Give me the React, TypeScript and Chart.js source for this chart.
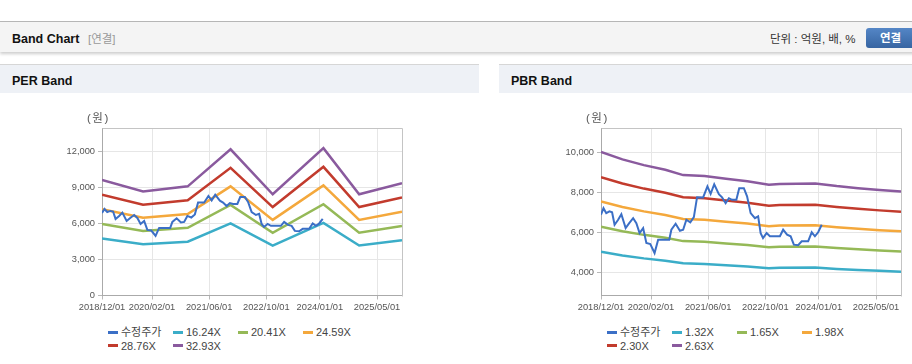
import React, { useEffect, useRef } from 'react';
import { Chart, registerables } from 'chart.js';

Chart.register(...registerables);

// ---------- data ----------
const xTickLabels = ['2018/12/01', '2020/02/01', '2021/06/01', '2022/10/01', '2024/01/01', '2025/05/01'];
const xRangeStart = '2018/12/01';
const xRangeEnd = '2025/12/01';

const priceDates = [
  '2018/12/01', '2018/12/22', '2019/01/15', '2019/02/12', '2019/03/04', '2019/03/25', '2019/04/25', '2019/05/22',
  '2019/06/28', '2019/07/28', '2019/09/01', '2019/09/28', '2019/10/25', '2019/11/25', '2019/12/22', '2020/01/25',
  '2020/03/01', '2020/04/01', '2020/05/12', '2020/07/04', '2020/07/22', '2020/08/28', '2020/10/04', '2020/11/01',
  '2020/11/28', '2021/01/01', '2021/02/01', '2021/02/28', '2021/04/19', '2021/05/25', '2021/06/22', '2021/07/22',
  '2021/09/01', '2021/09/28', '2021/10/28', '2021/11/25', '2021/12/22', '2022/01/28', '2022/02/22', '2022/04/01',
  '2022/04/28', '2022/05/28', '2022/07/04', '2022/08/01', '2022/08/22', '2022/09/12', '2022/10/12', '2022/11/10',
  '2023/02/04', '2023/03/01', '2023/04/04', '2023/05/04', '2023/06/01', '2023/07/07', '2023/08/07', '2023/10/01',
  '2023/11/01', '2023/11/28', '2023/12/25', '2024/01/25',
];
const priceValues = [
  6900, 7230, 6980, 7070, 7020, 6400, 6650, 6930,
  6230, 6480, 6730, 6480, 5980, 6230, 5480, 5430,
  4980, 5650, 5650, 5650, 6150, 6450, 6100, 6150,
  6650, 6520, 6780, 7780, 7770, 8320, 7950, 8430,
  7930, 7770, 7480, 7730, 7650, 7650, 8230, 8230,
  7820, 6980, 6730, 6820, 5980, 5730, 5980, 5820,
  5820, 6150, 5900, 5820, 5400, 5370, 5570, 5570,
  6020, 5820, 6020, 6400,
];

const perBandDates = ['2018/12/01', '2019/11/16', '2020/12/01', '2021/12/01', '2022/11/25', '2024/02/01', '2024/12/01', '2025/12/01'];
const perBand1624 = [4758, 4287, 4498, 6025, 4174, 6074, 4174, 4628];
const perBand2041 = [5980, 5388, 5654, 7572, 5245, 7633, 5245, 5817];
const perBand2459 = [7205, 6492, 6811, 9123, 6320, 9197, 6320, 7008];
const perBand2876 = [8427, 7593, 7967, 10670, 7391, 10756, 7391, 8197];
const perBand3293 = [9648, 8694, 9122, 12217, 8463, 12316, 8463, 9385];
const perLabels = ['수정주가', '16.24X', '20.41X', '24.59X', '28.76X', '32.93X'];
const perYTicks = [0, 3000, 6000, 9000, 12000];
const perYMin = 0;
const perYMax = 14000;

const pbrBandDates = [
  '2018/12/01', '2019/06/01', '2019/12/01', '2020/06/01', '2020/11/01', '2021/05/01', '2021/11/01', '2022/05/01',
  '2022/11/01', '2023/02/01', '2023/12/01', '2024/06/01', '2024/12/01', '2025/06/01', '2025/12/01',
];
const pbrBand132 = [5042, 4858, 4712, 4594, 4462, 4435, 4369, 4303, 4217, 4237, 4250, 4184, 4132, 4085, 4046];
const pbrBand165 = [6303, 6072, 5891, 5742, 5577, 5544, 5462, 5379, 5272, 5297, 5313, 5231, 5165, 5107, 5057];
const pbrBand198 = [7564, 7286, 7069, 6890, 6692, 6653, 6554, 6455, 6326, 6356, 6376, 6277, 6197, 6128, 6069];
const pbrBand230 = [8786, 8464, 8211, 8004, 7774, 7728, 7613, 7498, 7349, 7383, 7406, 7291, 7199, 7119, 7050];
const pbrBand263 = [10047, 9678, 9389, 9152, 8889, 8837, 8705, 8574, 8403, 8442, 8469, 8337, 8232, 8140, 8061];
const pbrLabels = ['수정주가', '1.32X', '1.65X', '1.98X', '2.30X', '2.63X'];
const pbrYTicks = [4000, 6000, 8000, 10000];
const pbrYMin = 2850;
const pbrYMax = 11250;

const seriesColors = ['#3b6fc6', '#3badc8', '#95b957', '#f4a83c', '#c23b2d', '#8a5a9e'];

// ---------- helpers ----------
const monthsFromStart = (d: string) => {
  const [y, m, dd] = d.split('/').map(Number);
  const [y0, m0] = xRangeStart.split('/').map(Number);
  return (y - y0) * 12 + (m - m0) + (dd - 1) / 30;
};

const xTickMonths = xTickLabels.map(monthsFromStart);
const FONT = "'Liberation Sans', Arial, 'Noto Sans CJK KR', sans-serif";

const boxPlugin = {
  id: 'plotBox',
  beforeDatasetsDraw(chart: any) {
    const { ctx, chartArea } = chart;
    ctx.save();
    ctx.strokeStyle = '#c4c4c4';
    ctx.lineWidth = 1;
    ctx.beginPath();
    ctx.moveTo(Math.round(chartArea.left) + 0.5, Math.round(chartArea.top) + 0.5);
    ctx.lineTo(Math.round(chartArea.right) + 0.5, Math.round(chartArea.top) + 0.5);
    ctx.lineTo(Math.round(chartArea.right) + 0.5, Math.round(chartArea.bottom) + 0.5);
    ctx.stroke();
    ctx.restore();
  },
};

type BandProps = {
  title: string;
  left: number;
  labels: string[];
  bandDates: string[];
  bands: number[][];
  yTicks: number[];
  yMin: number;
  yMax: number;
};

function BandPanel({ title, left, labels, bandDates, bands, yTicks, yMin, yMax }: BandProps) {
  const ref = useRef<HTMLCanvasElement | null>(null);

  useEffect(() => {
    if (!ref.current) return;
    const datasets: any[] = [
      {
        label: labels[0],
        data: priceDates.map((d, i) => ({ x: monthsFromStart(d), y: priceValues[i] })),
        borderColor: seriesColors[0],
        borderWidth: 2,
        pointRadius: 0,
        tension: 0,
      },
      ...bands.map((b, k) => ({
        label: labels[k + 1],
        data: bandDates.map((d, i) => ({ x: monthsFromStart(d), y: b[i] })),
        borderColor: seriesColors[k + 1],
        borderWidth: 2.5,
        pointRadius: 0,
        tension: 0,
      })),
    ];
    const chart = new Chart(ref.current, {
      type: 'line',
      data: { datasets },
      plugins: [boxPlugin],
      options: {
        animation: false,
        responsive: false,
        maintainAspectRatio: false,
        layout: { padding: { top: 35, left: 0, right: 77, bottom: 5.5 } },
        plugins: { legend: { display: false }, tooltip: { enabled: false } },
        scales: {
          x: {
            type: 'linear',
            min: monthsFromStart(xRangeStart),
            max: monthsFromStart(xRangeEnd),
            afterBuildTicks: (s: any) => {
              s.ticks = xTickMonths.map((v) => ({ value: v }));
            },
            afterFit: (s: any) => {
              s.height = 22;
            },
            ticks: {
              autoSkip: false,
              maxRotation: 0,
              padding: 2,
              color: '#555',
              font: { family: FONT, size: 9.3 },
              callback: (v: any) => {
                const i = xTickMonths.findIndex((m) => Math.abs(m - Number(v)) < 0.01);
                return i >= 0 ? xTickLabels[i] : '';
              },
            },
            grid: { color: '#e6e6e6', tickColor: '#b8b8b8', tickLength: 4 },
            border: { color: '#aaaaaa' },
          },
          y: {
            type: 'linear',
            min: yMin,
            max: yMax,
            afterBuildTicks: (s: any) => {
              s.ticks = yTicks.map((v) => ({ value: v }));
            },
            afterFit: (s: any) => {
              s.width = 102;
            },
            ticks: {
              padding: 3,
              color: '#555',
              font: { family: FONT, size: 9.3 },
              callback: (v: any) => Number(v).toLocaleString('en-US'),
            },
            grid: { color: '#e6e6e6', tickColor: '#b8b8b8', tickLength: 4 },
            border: { color: '#aaaaaa' },
          },
        },
      },
    });
    return () => chart.destroy();
  }, []);

  return (
    <div style={{ position: 'absolute', left, top: 64, width: 479, height: 300, background: '#fff' }}>
      <div
        style={{
          position: 'absolute', left: 0, top: 0, width: 479, height: 28,
          borderTop: '1px solid #d6d6d6', background: '#eef1f6',
        }}
      >
        <span
          style={{
            position: 'absolute', left: 12, top: 8.5, fontFamily: FONT, fontWeight: 'bold',
            fontSize: 12.5, color: '#111', lineHeight: '15px',
          }}
        >
          {title}
        </span>
      </div>
      <canvas
        ref={ref}
        width={479}
        height={230}
        style={{ position: 'absolute', left: 0, top: 29, width: 479, height: 230 }}
      />
      <span
        style={{
          position: 'absolute', left: 87, top: 47, fontFamily: FONT, fontSize: 11.5,
          color: '#555', lineHeight: '14px', letterSpacing: 1.5,
        }}
      >
        (원)
      </span>
      <div style={{ position: 'absolute', left: 108, top: 261, width: 300 }}>
        {labels.map((lab, i) => (
          <div
            key={lab}
            style={{
              position: 'absolute',
              left: (i % 4) * 65,
              top: Math.floor(i / 4) * 13.5,
              height: 14,
              display: 'flex',
              alignItems: 'center',
              whiteSpace: 'nowrap',
            }}
          >
            <span style={{ display: 'inline-block', width: 10, height: 3, background: seriesColors[i], marginRight: 3 }} />
            <span style={{ fontFamily: FONT, fontSize: 11, color: '#444', lineHeight: '14px' }}>{lab}</span>
          </div>
        ))}
      </div>
    </div>
  );
}

export default function App() {
  return (
    <div
      style={{
        position: 'fixed', left: 0, top: 0, width: 912, height: 364, overflow: 'hidden',
        background: '#fff', fontFamily: FONT,
      }}
    >
      <div style={{ position: 'absolute', left: 0, top: 21, width: 1000, height: 1, background: '#b8b8b8' }} />
      <div
        style={{
          position: 'absolute', left: 0, top: 22, width: 1000, height: 30, background: '#f4f4f4',
          boxShadow: '0 2px 3px rgba(0,0,0,0.2)',
        }}
      >
        <span
          style={{
            position: 'absolute', left: 12, top: 10, fontWeight: 'bold', fontSize: 12.5,
            color: '#111', lineHeight: '15px',
          }}
        >
          Band Chart
        </span>
        <span style={{ position: 'absolute', left: 88, top: 10, fontSize: 11.5, color: '#999', lineHeight: '15px' }}>
          [연결]
        </span>
        <span style={{ position: 'absolute', left: 770, top: 10, fontSize: 11.5, color: '#333', lineHeight: '15px' }}>
          단위 : 억원, 배, %
        </span>
        <div
          style={{
            position: 'absolute', left: 866, top: 6, width: 60, height: 20, borderRadius: 3,
            background: 'linear-gradient(#5486c6, #3765a2)',
          }}
        >
          <span
            style={{
              position: 'absolute', left: 14, top: 3, fontSize: 11.5, fontWeight: 'bold',
              color: '#fff', lineHeight: '14px',
            }}
          >
            연결
          </span>
        </div>
      </div>
      <BandPanel
        title="PER Band"
        left={0}
        labels={perLabels}
        bandDates={perBandDates}
        bands={[perBand1624, perBand2041, perBand2459, perBand2876, perBand3293]}
        yTicks={perYTicks}
        yMin={perYMin}
        yMax={perYMax}
      />
      <BandPanel
        title="PBR Band"
        left={499}
        labels={pbrLabels}
        bandDates={pbrBandDates}
        bands={[pbrBand132, pbrBand165, pbrBand198, pbrBand230, pbrBand263]}
        yTicks={pbrYTicks}
        yMin={pbrYMin}
        yMax={pbrYMax}
      />
    </div>
  );
}
